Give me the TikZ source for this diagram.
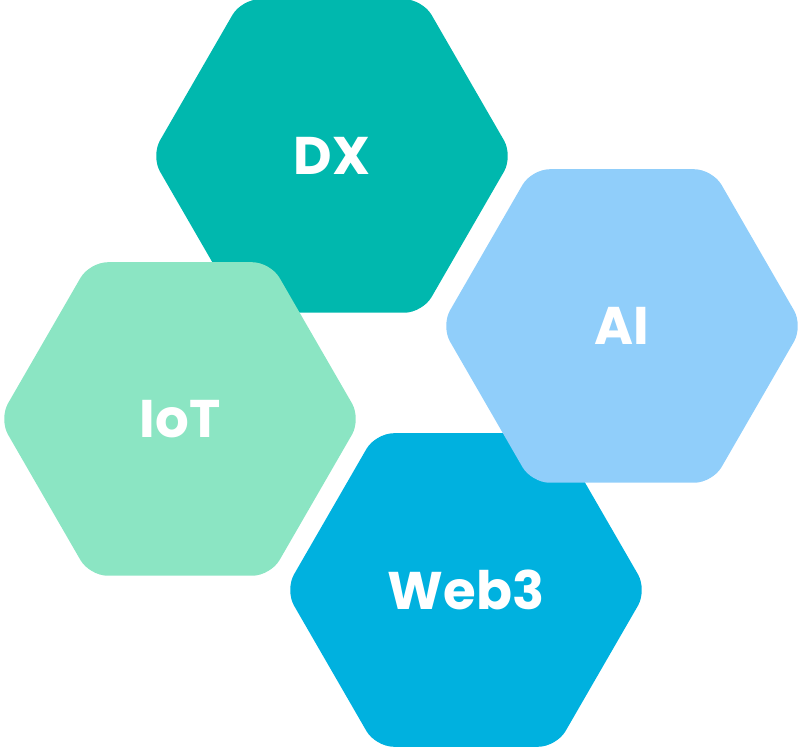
\documentclass[tikz,border=0pt]{standalone}
\usepackage{fontspec}
\setmainfont{Poppins}
\usetikzlibrary{shapes.geometric}
\definecolor{dxteal}{HTML}{00B8AE}
\definecolor{iotmint}{HTML}{8BE5C3}
\definecolor{aiblue}{HTML}{90CEFA}
\definecolor{webblue}{HTML}{00B1DF}
\begin{document}
\begin{tikzpicture}[x=1pt, y=1pt]
\tikzset{hexa/.style={regular polygon, regular polygon sides=6, minimum size=362pt, inner sep=0pt, rounded corners=18pt, text=white, font=\fontsize{53}{60}\selectfont\bfseries}}
\useasboundingbox (0, 0) rectangle (802, 746);
\node[hexa, fill=dxteal] (DX) at (332, 590) {DX};
\node[hexa, fill=iotmint] (IoT) at (180, 327) {IoT};
\node[hexa, fill=webblue] (Web3) at (466, 156) {Web3};
\node[hexa, fill=aiblue] (AI) at (622, 420) {AI};
\end{tikzpicture}
\end{document}
